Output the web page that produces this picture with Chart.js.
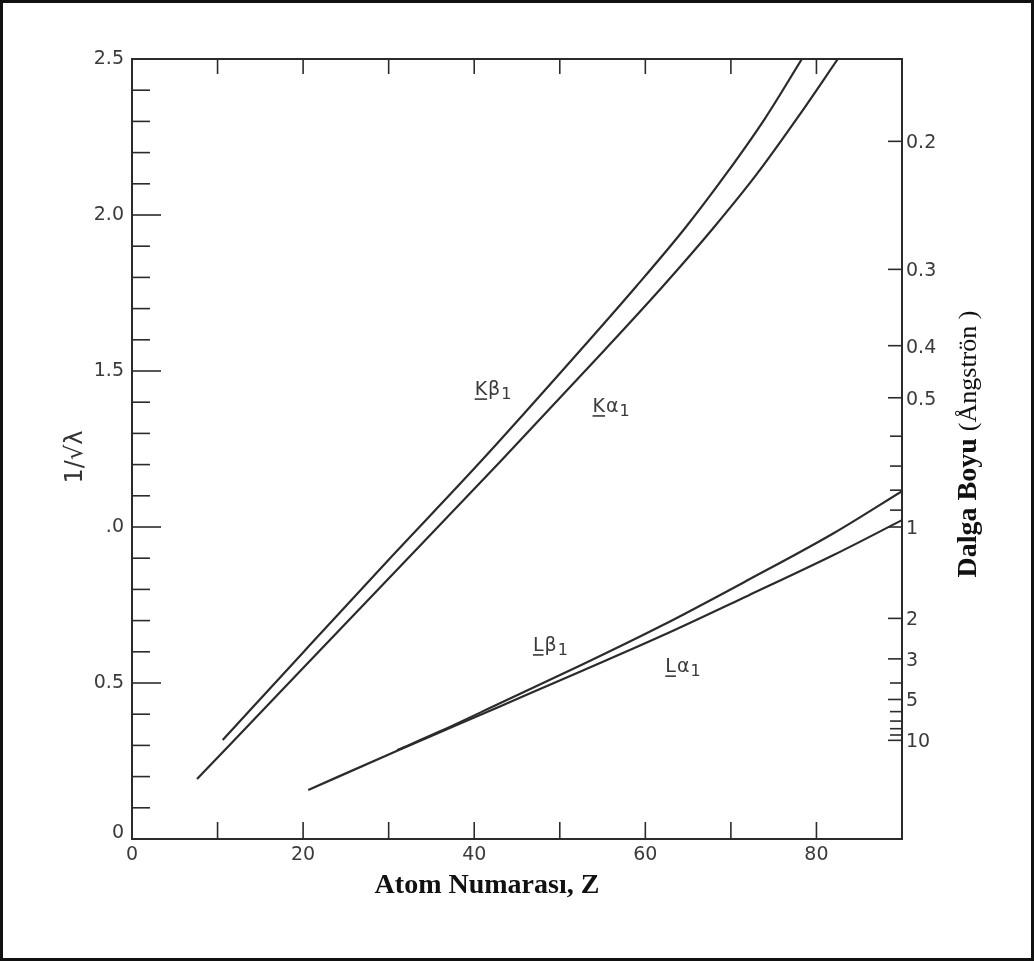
<!DOCTYPE html>
<html>
<head>
<meta charset="utf-8">
<script src="https://cdn.jsdelivr.net/npm/chart.js@4.4.0/dist/chart.umd.min.js"></script>
<style>
  html, body { margin: 0; padding: 0; background: #fff; }
  #wrap { position: relative; width: 1034px; height: 961px; }
  #chart { display: block; }
  #frame {
    position: absolute; left: 0; top: 0; width: 1034px; height: 961px;
    box-sizing: border-box; border: 3px solid #111; pointer-events: none;
  }
</style>
</head>
<body>
<div id="wrap">
  <canvas id="chart" width="1034" height="961"></canvas>
  <div id="frame"></div>
</div>
<script>
// Moseley plot: 1/sqrt(lambda) against atomic number Z
const kAlphaZ = [7.6, 20, 30, 43, 55, 62, 68, 73, 78, 82.5]
const kAlphaY = [0.192, 0.548, 0.835, 1.208, 1.56, 1.77, 1.96, 2.13, 2.32, 2.5]

const kBetaZ = [10.6, 20, 30, 40.7, 52.2, 58.9, 64.7, 69.4, 74, 78.3]
const kBetaY = [0.317, 0.598, 0.895, 1.208, 1.56, 1.77, 1.96, 2.13, 2.31, 2.5]

const lAlphaZ = [20.6, 31, 43, 52.7, 62, 72, 82, 90]
const lAlphaY = [0.157, 0.283, 0.425, 0.54, 0.652, 0.78, 0.91, 1.022]

const lBetaZ = [31, 36, 43, 52.7, 62, 72, 82, 90]
const lBetaY = [0.285, 0.345, 0.435, 0.56, 0.685, 0.83, 0.98, 1.115]

// axis ticks
const zTicks = [0, 10, 20, 30, 40, 50, 60, 70, 80, 90]
const zLabels = [0, 20, 40, 60, 80]
const yMajor = [0, 0.5, 1, 1.5, 2, 2.5]
const yMajorText = ['0', '0.5', '.0', '1.5', '2.0', '2.5']
const yMinor = [0.1, 0.2, 0.3, 0.4, 0.6, 0.7, 0.8, 0.9, 1.1, 1.2, 1.3, 1.4,
  1.6, 1.7, 1.8, 1.9, 2.1, 2.2, 2.3, 2.4]
const lambdaTicks = [0.2, 0.3, 0.4, 0.5, 0.6, 0.7, 0.8, 0.9, 1, 2, 3, 4, 5, 6, 7, 8, 9, 10]
const lambdaLabels = [0.2, 0.3, 0.4, 0.5, 1, 2, 3, 5, 10]

// curve names, anchored in data units
const curveLetter = ['K', 'K', 'L', 'L']
const curveGreek = ['β', 'α', 'β', 'α']
const curveLabelZ = [42.2, 56.0, 48.9, 64.4]
const curveLabelY = [1.442, 1.388, 0.622, 0.554]

const ink = '#2b2b2b'
const tickFont = '19px "DejaVu Sans"'

function series(name, zs, ys) {
  return {
    label: name,
    data: zs.map((z, i) => ({ x: z, y: ys[i] })),
    borderColor: ink,
    borderWidth: 2.2,
    pointRadius: 0,
    cubicInterpolationMode: 'monotone',
    fill: false,
    clip: 0
  }
}

function seg(ctx, x1, y1, x2, y2) {
  ctx.beginPath()
  ctx.moveTo(x1, y1)
  ctx.lineTo(x2, y2)
  ctx.stroke()
}

const axesPlugin = {
  id: 'scanAxes',
  afterDatasetsDraw(chart) {
    const { ctx, chartArea: a, scales: { x, y } } = chart
    ctx.save()
    ctx.strokeStyle = ink
    ctx.fillStyle = '#3a3a3a'

    // frame
    ctx.lineWidth = 2
    ctx.strokeRect(a.left, a.top, a.right - a.left, a.bottom - a.top)

    // bottom and top ticks, pointing inward
    ctx.lineWidth = 1.6
    zTicks.forEach(z => {
      if (z === 0 || z === 90) return
      const px = x.getPixelForValue(z)
      seg(ctx, px, a.bottom, px, a.bottom - 17)
      seg(ctx, px, a.top, px, a.top + 15)
    })

    // left ticks
    yMinor.forEach(v => {
      const py = y.getPixelForValue(v)
      seg(ctx, a.left, py, a.left + 18, py)
    })
    yMajor.forEach(v => {
      if (v === 0 || v === 2.5) return
      const py = y.getPixelForValue(v)
      seg(ctx, a.left, py, a.left + 29, py)
    })

    // right wavelength ticks
    lambdaTicks.forEach(l => {
      const py = y.getPixelForValue(1 / Math.sqrt(l))
      const len = lambdaLabels.includes(l) ? 14 : 12
      seg(ctx, a.right - len, py, a.right, py)
    })

    // tick labels
    ctx.font = tickFont
    ctx.textBaseline = 'middle'
    ctx.textAlign = 'right'
    yMajor.forEach((v, i) => {
      ctx.fillText(yMajorText[i], a.left - 8, y.getPixelForValue(v) - (v === 0 ? 6 : 0))
    })
    ctx.textAlign = 'center'
    zLabels.forEach(z => {
      ctx.fillText(String(z), x.getPixelForValue(z), a.bottom + 16)
    })
    ctx.textAlign = 'left'
    lambdaLabels.forEach(l => {
      ctx.fillText(String(l), a.right + 4, y.getPixelForValue(1 / Math.sqrt(l)) + 2)
    })

    // curve names: underlined letter, greek, subscript 1
    ctx.textAlign = 'left'
    ctx.textBaseline = 'alphabetic'
    curveLetter.forEach((letter, i) => {
      const cx = x.getPixelForValue(curveLabelZ[i])
      const cy = y.getPixelForValue(curveLabelY[i])
      ctx.font = '19px "DejaVu Sans"'
      const wL = ctx.measureText(letter).width
      const wG = ctx.measureText(curveGreek[i]).width
      ctx.font = '16px "DejaVu Sans"'
      const wS = ctx.measureText('1').width
      const x0 = cx - (wL + wG + wS + 2) / 2
      const base = cy + 6
      ctx.font = '19px "DejaVu Sans"'
      ctx.fillText(letter, x0, base)
      ctx.lineWidth = 1.5
      seg(ctx, x0, base + 4, x0 + wL, base + 4)
      ctx.fillText(curveGreek[i], x0 + wL + 1, base)
      ctx.font = '16px "DejaVu Sans"'
      ctx.fillText('1', x0 + wL + wG + 2, base + 4)
    })

    // axis titles
    ctx.fillStyle = '#111'
    ctx.font = 'bold 28px "Liberation Serif"'
    ctx.textAlign = 'center'
    ctx.textBaseline = 'middle'
    ctx.fillText('Atom Numarası, Z', 487, 886)

    ctx.save()
    ctx.translate(76, 457)
    ctx.rotate(-Math.PI / 2)
    ctx.fillStyle = '#333'
    ctx.font = '24px "DejaVu Sans"'
    ctx.fillText('1/√λ', 0, 0)
    ctx.restore()

    ctx.save()
    ctx.translate(969, 444)
    ctx.rotate(-Math.PI / 2)
    ctx.textAlign = 'left'
    ctx.font = 'bold 28px "Liberation Serif"'
    const part1 = 'Dalga Boyu '
    const w1 = ctx.measureText(part1).width
    ctx.font = '26px "Liberation Serif"'
    const part2 = '(Ångströn )'
    const w2 = ctx.measureText(part2).width
    const start = -(w1 + w2) / 2
    ctx.font = 'bold 28px "Liberation Serif"'
    ctx.fillText(part1, start, 0)
    ctx.font = '26px "Liberation Serif"'
    ctx.fillText(part2, start + w1, 0)
    ctx.restore()

    ctx.restore()
  }
}

new Chart(document.getElementById('chart'), {
  type: 'line',
  data: {
    datasets: [
      series('Kα1', kAlphaZ, kAlphaY),
      series('Kβ1', kBetaZ, kBetaY),
      series('Lα1', lAlphaZ, lAlphaY),
      series('Lβ1', lBetaZ, lBetaY)
    ]
  },
  options: {
    responsive: false,
    animation: false,
    layout: { padding: { left: 132, right: 132, top: 59, bottom: 122 } },
    plugins: {
      legend: { display: false },
      tooltip: { enabled: false }
    },
    scales: {
      x: { type: 'linear', min: 0, max: 90, display: false },
      y: { type: 'linear', min: 0, max: 2.5, display: false }
    }
  },
  plugins: [axesPlugin]
})
</script>
</body>
</html>
